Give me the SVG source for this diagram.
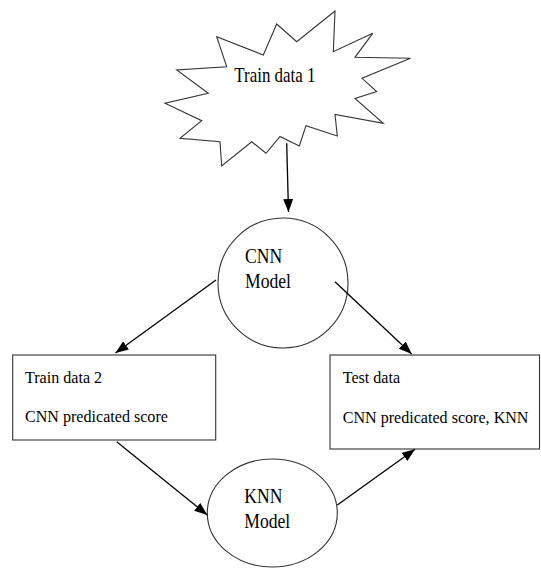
<svg xmlns="http://www.w3.org/2000/svg" width="541" height="568" viewBox="0 0 541 568">
<style>
.shape{fill:#fff;stroke:#333;stroke-width:1.1}
.lbl{font-family:"Liberation Serif","Times New Roman",serif;fill:#000}
.big{font-size:22px}
.box{font-size:17.5px}
.conn{stroke:#000;stroke-width:1.3;fill:none;marker-end:url(#ah)}
</style>
<defs>
<marker id="ah" markerUnits="userSpaceOnUse" markerWidth="14" markerHeight="10" refX="13" refY="5" orient="auto">
<path d="M0,0 L13,5 L0,10 Z" fill="#000"/>
</marker>
</defs>
<rect width="541" height="568" fill="#fff"/>
<g id="train1">
<polygon class="shape" points="335,11 333.3,51.7 372.7,33.3 355,57.3 410.5,58.3 362,78.3 376.7,91.5 355,98.5 383.3,123.3 335,114.5 337.3,136 306,125.7 299.3,146 280,136.5 266,153.3 251.7,141.7 221.7,166 220,141.7 180,138.3 201.7,120.7 165,103.3 208.3,93.3 176.7,70 226.7,66.7 216.7,36.7 263.3,55 276.7,24 296.7,41.7"/>
<text class="lbl big" transform="translate(234.3,81.7) scale(0.77,1)">Train data 1</text>
</g>
<g id="cnn">
<circle class="shape" cx="283" cy="283" r="65"/>
<text class="lbl big" transform="translate(245,263.3) scale(0.8,1)">CNN</text>
<text class="lbl big" transform="translate(245,287.7) scale(0.8,1)">Model</text>
</g>
<g id="train2">
<rect class="shape" x="12.7" y="355" width="203" height="85"/>
<text class="lbl box" transform="translate(25,382.7) scale(0.92,1)">Train data 2</text>
<text class="lbl box" transform="translate(25,421.5) scale(0.92,1)">CNN predicated score</text>
</g>
<g id="test">
<rect class="shape" x="330" y="355" width="209.5" height="94"/>
<text class="lbl box" transform="translate(342.7,383.3) scale(0.92,1)">Test data</text>
<text class="lbl box" transform="translate(342.7,422.7) scale(0.92,1)">CNN predicated score, KNN</text>
</g>
<g id="knn">
<ellipse class="shape" cx="272.3" cy="513" rx="65" ry="54"/>
<text class="lbl big" transform="translate(244.3,503.3) scale(0.8,1)">KNN</text>
<text class="lbl big" transform="translate(244.3,528.3) scale(0.8,1)">Model</text>
</g>
<g id="connectors">
<line class="conn" x1="286.7" y1="143.3" x2="288.5" y2="212"/>
<line class="conn" x1="216" y1="280" x2="115.5" y2="353"/>
<line class="conn" x1="335" y1="281.7" x2="411.7" y2="354"/>
<line class="conn" x1="116.7" y1="441.7" x2="207.3" y2="515"/>
<line class="conn" x1="337.3" y1="505" x2="415" y2="449.3"/>
</g>
</svg>
